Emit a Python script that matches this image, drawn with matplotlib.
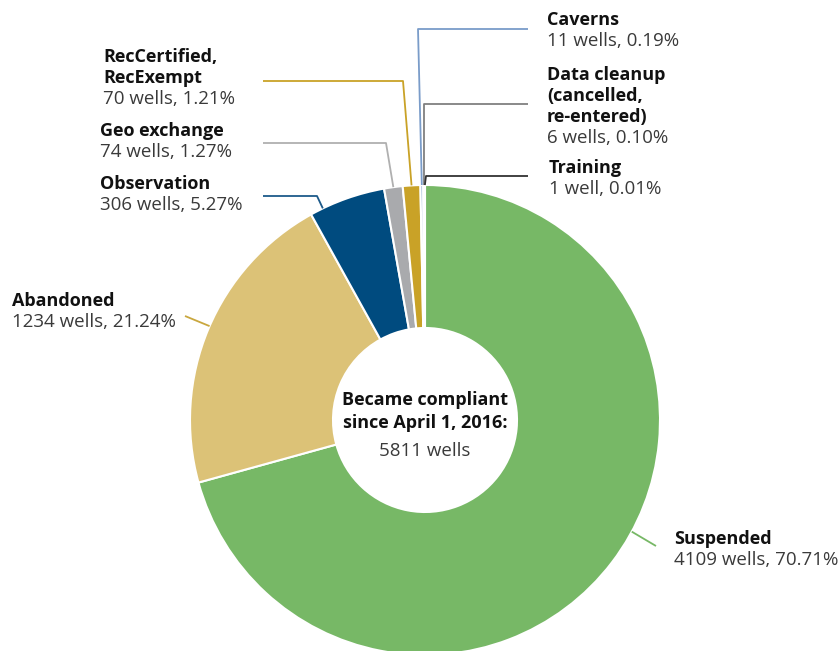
import matplotlib
matplotlib.use("Agg")
import matplotlib.pyplot as plt
import numpy as np

# Data
categories = ["Suspended", "Abandoned", "Observation", "Geo exchange",
              "RecCertified,\nRecExempt", "Caverns",
              "Data cleanup\n(cancelled,\nre-entered)", "Training"]
wells = [4109, 1234, 306, 74, 70, 11, 6, 1]
percent_labels = ["70.71%", "21.24%", "5.27%", "1.27%", "1.21%", "0.19%", "0.10%", "0.01%"]
colors = ["#77b866", "#dcc277", "#004b7f", "#a9aaad", "#c9a227", "#7a9cc9", "#7f7f7f", "#222222"]
line_colors = ["#77b866", "#c9a73f", "#1d5a8a", "#b0b0b0", "#c9a227", "#7a9cc9", "#808080", "#333333"]
total_wells = 5811

W, H = 840, 651
cx, cy = 425, 420       # pixel coords of donut centre
R, r_in = 235, 92

# label layout (pixel coords): text x, first-line y, leader path (label side -> elbow), anchor fraction in wedge
label_pos = [(674, 539), (12, 301), (100, 184), (100, 131), (103, 57), (547, 20), (547, 75), (549, 168)]
leader_path = [[(656, 546)], [(185, 316)], [(263, 196), (317, 196)], [(263, 143), (386, 143)],
               [(263, 81), (403, 81)], [(528, 29), (418, 29)], [(528, 104), (424, 104)],
               [(528, 176), (426, 176)]]
anchor_frac = [0.465, 0.51, 0.17, 0.5, 0.5, 0.5, 0.5, 0.5]

plt.rcParams['font.family'] = ['Open Sans', 'DejaVu Sans']
FS_T = 13
FS_V = 13.5

fig = plt.figure(figsize=(W / 100, H / 100), dpi=100)
ax = fig.add_axes([0, 0, 1, 1])


def py(y):
    return H - y


ax.pie(wells, colors=colors, startangle=90, counterclock=False,
       center=(cx, py(cy)), radius=R,
       wedgeprops=dict(width=R - r_in, edgecolor="white", linewidth=1.5))

ax.set_xlim(0, W)
ax.set_ylim(0, H)
ax.set_aspect("equal")
ax.axis("off")

# leader lines and labels
cum = np.concatenate([[0], np.cumsum(wells)[:-1]])
for i, name in enumerate(categories):
    pos = (cum[i] + wells[i] * anchor_frac[i]) / total_wells
    ang = np.deg2rad(90 - 360 * pos)
    ax_pt = (cx + R * np.cos(ang), py(cy) + R * np.sin(ang))
    pts = [(x, py(y)) for x, y in leader_path[i]] + [ax_pt]
    xs, ys = zip(*pts)
    ax.plot(xs, ys, color=line_colors[i], lw=1.3, solid_capstyle="butt")

    tx, ty = label_pos[i]
    lines = name.split("\n")
    for k, ln in enumerate(lines):
        ax.text(tx, py(ty + 21 * k), ln, fontsize=FS_T, fontweight="bold",
                color="#111111", va="center", ha="left")
    unit = "well" if wells[i] == 1 else "wells"
    ax.text(tx, py(ty + 21 * len(lines)), f"{wells[i]} {unit}, {percent_labels[i]}",
            fontsize=FS_V, fontweight="normal", color="#3a3a3a", va="center", ha="left")

# centre text
ax.text(cx, py(400), "Became compliant", fontsize=FS_T, fontweight="bold",
        color="#111111", ha="center", va="center")
ax.text(cx, py(423), "since April 1, 2016:", fontsize=FS_T, fontweight="bold",
        color="#111111", ha="center", va="center")
ax.text(cx, py(451), f"{total_wells} wells", fontsize=FS_V, fontweight="normal",
        color="#3a3a3a", ha="center", va="center")

fig.savefig("out.png", dpi=100)
